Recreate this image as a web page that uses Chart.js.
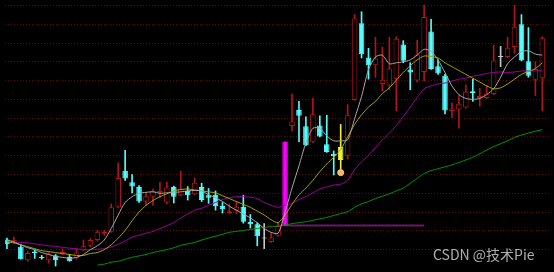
<!DOCTYPE html>
<html>
<head>
<meta charset="utf-8">
<script src="https://cdn.jsdelivr.net/npm/chart.js@4.4.1/dist/chart.umd.min.js"></script>
<style>
    html, body { margin: 0; padding: 0; background: #000; }
    #pai-conteudo { position: relative; width: 554px; height: 272px; }
    #marca { position: absolute; left: 433px; top: 244px; font: 14px "Noto Sans CJK SC", "Noto Sans", sans-serif; color: rgba(205, 205, 205, 0.85); white-space: nowrap; }
</style>
</head>
<body>
<div id="pai-conteudo">
    <canvas id="graficoKLine" width="554" height="272"></canvas>
    <div id="marca">CSDN @技术Pie</div>
</div>
<script>
// preços de cada candle (abertura, fechamento, máxima, mínima)
const abertura = [28.5, 27, 21, 7, 16, 10.5, 7, 12, 14, 10.5,
    9, 17.5, 22, 28, 34.5, 36.5, 62, 100, 88, 83,
    68, 73, 77, 67, 83, 74.5, 79, 75.5, 83, 74.5,
    75, 63.5, 56, 58.5, 62.5, 47, 44.5, 30.5, 26, 32.5,
    43, 146.5, 163, 146, 129.5, 147, 127.5, 117.5, 124.5, 115.5,
    173.5, 253, 217.5, 209.5, 190, 188.5, 195.5, 231, 205, 193.5,
    202.5, 244.5, 208.5, 198.5, 162, 163.5, 165.5, 182.5, 175.5, 175.5,
    179.5, 219, 218, 228.5, 252, 213.5, 194.5, 196];
const fechamento = [23.5, 28, 8, 14.5, 14.5, 9, 14, 7, 16, 6,
    15, 21.5, 28, 36, 36.5, 62, 92.5, 92, 83.5, 68,
    73.5, 79, 79, 82.5, 73, 81, 74.5, 87.5, 69.5, 72,
    63, 60, 58, 62.5, 47, 44.5, 32, 29.5, 30.5, 42.5,
    130, 151, 157, 126.5, 158.5, 135.5, 119.5, 115, 111, 157.5,
    258, 221, 209.5, 216.5, 194.5, 206, 237, 214, 202, 220.5,
    259.5, 205.5, 201, 162.5, 164.5, 169.5, 182, 180.5, 177.5, 180,
    214.5, 218, 227.5, 249.5, 214.5, 198.5, 205.5, 237.5];
const maxima = [30, 31, 23, 16, 17.5, 12, 15.5, 13, 19, 13,
    19, 28, 29.5, 38, 38, 65.5, 108, 121, 96, 84.5,
    77, 81, 88, 88, 84, 99.5, 83.5, 92.5, 87, 81.5,
    79, 67, 65.5, 68, 74.5, 54.5, 46, 45, 36, 45.5,
    130, 179.5, 172, 156, 175, 157, 157.5, 120.5, 148, 168.5,
    262, 265, 227, 238.5, 228.5, 238.5, 239, 235, 212, 235.5,
    272, 257, 215, 200, 170.5, 178.5, 189, 195, 185.5, 188.5,
    230.5, 229, 238.5, 272, 262, 248.5, 213, 239];
const minima = [19, 25, 8, 6, 9, 8, 4, 1, 13, 6,
    8, 17, 21, 27, 33, 36, 61.5, 90, 77, 67,
    64, 64, 72, 65.5, 66.5, 74, 69.5, 75, 68, 66,
    59, 56, 55.5, 55.5, 45.5, 40.5, 22, 19, 25.5, 32,
    43, 141, 130, 126, 129, 135, 119, 95.5, 102, 112,
    173, 217, 195, 197, 183, 184, 162, 212, 184, 192,
    193.5, 205, 200, 159, 155, 144, 165, 172, 167, 175,
    179, 208, 217, 222, 214, 197, 178, 162];

// médias móveis
const media5 = [28, 26, 23, 20, 18, 15, 13, 11, 10, 9,
    10, 13, 18, 22, 28, 40, 54, 67, 73, 76.5,
    77.5, 78, 76.5, 77, 77.5, 78, 79, 79.5, 79, 75,
    72, 68, 63, 59, 55, 51, 46, 40, 36, 35,
    57, 82, 105, 129, 144, 144, 136, 131, 131, 132,
    154, 177, 205, 218, 220, 211, 212, 213, 215, 220,
    226, 224, 215, 202, 188, 179, 175, 174, 175, 179,
    185, 197, 211, 218, 223.5, 224.5, 221, 220];
const media10 = [26, 25, 23, 21, 19, 17, 16, 15, 14, 13,
    12, 12, 14, 15, 18, 23, 30, 38, 48, 57,
    64, 69, 73, 76, 79, 80.5, 81, 80, 79, 78,
    77, 74, 71, 68, 65, 62, 58, 54, 49, 46,
    54, 65, 75, 82, 90, 99, 107, 114, 122, 135,
    148, 158, 166, 172, 180, 186, 194, 202, 209, 215,
    219, 218.5, 217, 212, 208, 204, 200, 196, 192, 188,
    185, 186, 190, 195, 200, 203, 206, 212];
const media20 = [27, 26, 25.5, 25, 24, 23, 22, 21.5, 20.5, 19.5,
    19, 18, 18, 18.5, 19, 21, 23.5, 27, 31, 33,
    35, 37, 40, 43, 46, 51, 55, 59, 61, 64,
    67, 70, 72, 73, 73, 72.5, 71, 67, 64, 62,
    64, 66, 70, 73, 77, 81, 83, 85, 86, 90,
    101, 109, 116, 124, 132, 139, 147, 156, 166, 176,
    185, 188, 190, 191, 193, 195, 196, 198, 199.5, 201,
    202, 202.5, 202, 202.5, 203.5, 203.5, 203.5, 204];
const media60 = [null, null, null, null, null, null, null, null, null, null,
    null, null, null, 2, 3, 5, 6, 8, 10, 11.5,
    13, 15, 16.5, 18, 20, 22.5, 24, 25.5, 28, 30,
    32, 34, 36, 37, 38, 39, 40, 41, 42, 42.5,
    43.5, 45, 46, 47, 48.5, 50, 51.5, 53.5, 55.5, 57.5,
    62, 65.5, 68, 71, 73.5, 76, 79, 82, 87, 92,
    97, 100, 102, 104, 106, 108.5, 111, 114, 117.5, 121.5,
    125, 128, 131, 134.5, 137, 139, 141, 142.5];

// linhas de grade horizontais
const niveisGrade = [18, 37.5, 57, 76.5, 96, 115.5, 135, 154.5, 174, 193.5, 213, 232.5, 252, 271.5];

// candles com cor especial (limite, selecionado, doji)
const coresEspeciais = { 37: '#c8c8c8', 40: '#ff00ff', 48: '#eeee3a', 71: '#c8c8c8' };
const inicioGap = 40;
const fimGap = 60;
const indiceCursor = 48;
const valorCursor = 98;

const VERMELHO = '#b01616';
const CIANO = '#54fcfc';

function corCandle(i) {
    if (coresEspeciais[i]) return coresEspeciais[i];
    return fechamento[i] >= abertura[i] ? VERMELHO : CIANO;
}

function preenchimento(i) {
    if (coresEspeciais[i]) return coresEspeciais[i];
    return fechamento[i] >= abertura[i] ? '#000000' : CIANO; // alta = vazado
}

function linhaMedia(dados, cor) {
    return {
        type: 'line',
        data: dados.map((v, i) => ({ x: i, y: v })),
        borderColor: cor,
        borderWidth: 1,
        pointRadius: 0,
        tension: 0.25,
        spanGaps: false,
        order: 0
    };
}

function plotarGrafico() {
    const ctx = document.getElementById('graficoKLine').getContext('2d');
    const indices = abertura.map((_, i) => i);

    new Chart(ctx, {
        type: 'bar',
        data: {
            datasets: [
                linhaMedia(media5, '#a8a8a8'),
                linhaMedia(media10, '#a8a800'),
                linhaMedia(media20, '#a000a0'),
                linhaMedia(media60, '#009800'),
                {
                    // marcador do cursor
                    type: 'line',
                    data: [{ x: indiceCursor, y: valorCursor }],
                    showLine: false,
                    pointRadius: 3,
                    pointBackgroundColor: '#f6b26e',
                    pointBorderColor: '#ffd29a',
                    order: 0
                },
                {
                    // corpo dos candles
                    type: 'bar',
                    data: indices.map(i => ({ x: i, y: [abertura[i], fechamento[i]] })),
                    backgroundColor: indices.map(preenchimento),
                    borderColor: indices.map(corCandle),
                    borderWidth: 1,
                    borderSkipped: false,
                    grouped: false,
                    categoryPercentage: 1,
                    barPercentage: 0.8,
                    order: 1
                },
                {
                    // sombras (máxima/mínima)
                    type: 'bar',
                    data: indices.map(i => ({ x: i, y: [minima[i], maxima[i]] })),
                    backgroundColor: indices.map(corCandle),
                    borderWidth: 0,
                    grouped: false,
                    barThickness: 1,
                    order: 2
                },
                {
                    // linha do gap
                    type: 'line',
                    data: [{ x: inicioGap, y: abertura[inicioGap] }, { x: fimGap, y: abertura[inicioGap] }],
                    borderColor: '#6a186a',
                    borderWidth: 2,
                    pointRadius: 0,
                    order: 3
                }
            ]
        },
        options: {
            responsive: false,
            animation: false,
            layout: { padding: 0 },
            scales: {
                x: {
                    type: 'linear',
                    min: -0.28,
                    max: 77.96,
                    offset: false,
                    display: false
                },
                y: {
                    min: 0,
                    max: 272,
                    ticks: { display: false },
                    grid: {
                        color: '#600808', // grade pontilhada vermelha escura
                        drawTicks: false,
                        lineWidth: 1
                    },
                    border: { display: false, dash: [1, 2] },
                    afterBuildTicks: function (eixo) {
                        eixo.ticks = niveisGrade.map(v => ({ value: v }));
                    }
                }
            },
            plugins: {
                legend: { display: false },
                tooltip: { enabled: false }
            }
        }
    });
}

plotarGrafico();
</script>
</body>
</html>
